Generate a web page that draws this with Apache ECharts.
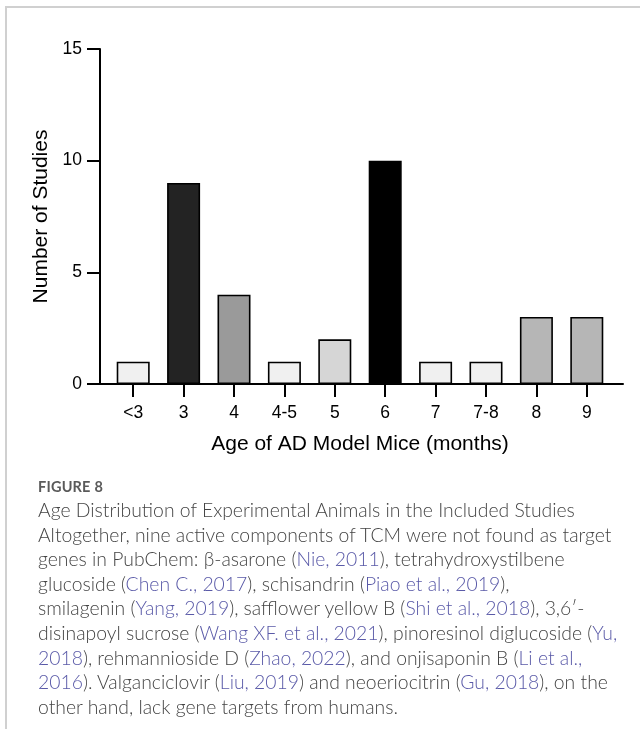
<!DOCTYPE html>
<html>
<head>
<meta charset="utf-8">
<script src="https://cdn.jsdelivr.net/npm/echarts@6/dist/echarts.min.js"></script>
<style>
  html, body { margin: 0; padding: 0; background: #fff; }
  #wrap { position: relative; width: 640px; height: 729px; overflow: hidden; }
  #frame { position: absolute; left: 5px; top: 6px; width: 700px; height: 800px;
           border-left: 2px solid #d0d0d0; border-top: 2px solid #d0d0d0; }
  #chart { position: absolute; left: 0; top: 0; width: 640px; height: 729px; }
  #caption { position: absolute; left: 38px; top: 476px; font-family: Lato, "Open Sans", sans-serif;
             color: #555; white-space: nowrap; }
  #caption .fig { font-size: 14.5px; font-weight: 700; color: #5a5a5a; line-height: 22px; letter-spacing: 0.2px; }
  #caption .body { font-size: 19.35px; line-height: 24.6px; font-weight: 300; color: #444; }
  #caption a { color: #5a5aa8; text-decoration: none; }
</style>
</head>
<body>
<div id="wrap">
  <div id="frame"></div>
  <div id="chart"></div>
  <div id="caption">
    <div class="fig">FIGURE 8</div>
    <div class="body">Age Distribution of Experimental Animals in the Included Studies<br>Altogether, nine active components of TCM were not found as target<br>genes in PubChem: β-asarone (<a>Nie, 2011</a>), tetrahydroxystilbene<br>glucoside (<a>Chen C., 2017</a>), schisandrin (<a>Piao et al., 2019</a>),<br>smilagenin (<a>Yang, 2019</a>), safflower yellow B (<a>Shi et al., 2018</a>), 3,6′-<br>disinapoyl sucrose (<a>Wang XF. et al., 2021</a>), pinoresinol diglucoside (<a>Yu,</a><br><a>2018</a>), rehmannioside D (<a>Zhao, 2022</a>), and onjisaponin B (<a>Li et al.,</a><br><a>2016</a>). Valganciclovir (<a>Liu, 2019</a>) and neoeriocitrin (<a>Gu, 2018</a>), on the<br>other hand, lack gene targets from humans.</div>
  </div>
</div>
<script>
const categories = ['<3', '3', '4', '4-5', '5', '6', '7', '7-8', '8', '9'];
const studies = [1, 9, 4, 1, 2, 10, 1, 1, 3, 3];
const barColors = ['#f0f0f0', '#232323', '#9a9a9a', '#f0f0f0', '#d6d6d6', '#000000', '#f0f0f0', '#f0f0f0', '#b6b6b6', '#b6b6b6'];
const yTicks = [0, 5, 10, 15];

const chart = echarts.init(document.getElementById('chart'), null, { renderer: 'canvas' });
const font = 'Liberation Sans, Arial, sans-serif';
const option = {
  animation: false,
  grid: [
    { left: 108, right: 28, top: 49, bottom: 345 },
    { left: 100, right: 17, top: 49, bottom: 345 }
  ],
  xAxis: [
    {
      type: 'category', gridIndex: 0, data: categories,
      axisLine: { show: false },
      axisTick: { show: true, alignWithLabel: true, length: 13, lineStyle: { color: '#000', width: 2 } },
      axisLabel: { color: '#000', fontSize: 17.5, fontFamily: font, margin: 20 },
      name: 'Age of AD Model Mice (months)', nameLocation: 'middle', nameGap: 50,
      nameTextStyle: { color: '#000', fontSize: 21, fontFamily: font }
    },
    {
      type: 'value', gridIndex: 1, min: 0, max: 1,
      axisLine: { show: true, onZero: false, lineStyle: { color: '#000', width: 2 } },
      axisTick: { show: false }, axisLabel: { show: false }, splitLine: { show: false }
    }
  ],
  yAxis: [
    { type: 'value', gridIndex: 0, min: 0, max: 15, interval: 5, show: false },
    {
      type: 'value', gridIndex: 1, min: 0, max: 15, interval: 5,
      axisLine: { show: true, lineStyle: { color: '#000', width: 2 } },
      axisTick: { show: true, length: 13, lineStyle: { color: '#000', width: 2 } },
      axisLabel: { color: '#000', fontSize: 17.5, fontFamily: font, margin: 18,
                   formatter: v => yTicks.includes(v) ? String(v) : '' },
      splitLine: { show: false },
      name: 'Number of Studies', nameLocation: 'middle', nameGap: 43, nameRotate: 90,
      nameTextStyle: { color: '#000', fontSize: 21, fontFamily: font }
    }
  ],
  series: [{
    type: 'bar', xAxisIndex: 0, yAxisIndex: 0, barWidth: 33,
    data: studies.map((v, i) => ({ value: v, itemStyle: { color: barColors[i] } })),
    itemStyle: { borderColor: '#000', borderWidth: 1.6 }
  }]
};
chart.setOption(option);
</script>
</body>
</html>
